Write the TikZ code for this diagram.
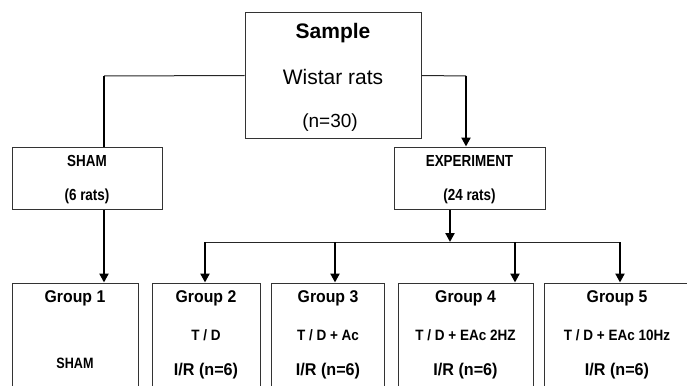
\documentclass[tikz,border=0pt]{standalone}
\usepackage{graphicx}
\usepackage{fontspec}
\setmainfont{Liberation Sans}
\usetikzlibrary{arrows.meta}
\def\dthin{\draw[line width=1pt,black!85]}
\def\dthick{\draw[line width=2.8pt,-{Triangle[length=9pt,width=9pt]}]}
\def\fsz#1{\fontsize{#1}{#1}\selectfont}
\def\nar#1#2{\scalebox{#1}[1]{#2}}

\begin{document}
\begin{tikzpicture}[x=1pt,y=-1pt,
    box/.style={draw=black!80,line width=1pt,inner sep=0pt},
    txt/.style={inner sep=0pt,anchor=center}]
    \useasboundingbox (0,0) rectangle (687,385);
    \clip (0,0) rectangle (687,385);
    % boxes
    \node[box,minimum width=176pt,minimum height=125pt] (sample) at (333,75.5) {};
    \node[box,minimum width=150pt,minimum height=62pt] (sham) at (87,178) {};
    \node[box,minimum width=151pt,minimum height=62pt] (exp) at (469.5,178) {};
    \node[box,minimum width=126pt,minimum height=117pt] (g1) at (75,341.5) {};
    \node[box,minimum width=108pt,minimum height=117pt] (g2) at (206,341.5) {};
    \node[box,minimum width=113pt,minimum height=117pt] (g3) at (327.5,341.5) {};
    \node[box,minimum width=135pt,minimum height=117pt] (g4) at (465.5,341.5) {};
    \node[box,minimum width=146pt,minimum height=117pt] (g5) at (617,341.5) {};
    % texts
    \node[txt] (sample-t) at (333,33) {\fsz{21}\bfseries Sample};
    \node[txt] (sample-w) at (333,77) {\fsz{21}Wistar rats};
    \node[txt] (sample-n) at (330,123) {\fsz{19}(n=30)};
    \node[txt] (sham-t) at (87,161) {\nar{0.84}{\fsz{16}\bfseries SHAM}};
    \node[txt] (sham-n) at (87,196) {\nar{0.84}{\fsz{16}\bfseries (6 rats)}};
    \node[txt] (exp-t) at (469.5,161) {\nar{0.84}{\fsz{16}\bfseries EXPERIMENT}};
    \node[txt] (exp-n) at (469.5,196) {\nar{0.84}{\fsz{16}\bfseries (24 rats)}};
    \node[txt] (g1-t) at (75,298) {\nar{0.93}{\fsz{17}\bfseries Group 1}};
    \node[txt] (g1-s) at (75,363) {\nar{0.84}{\fsz{15}\bfseries SHAM}};
    \node[txt] (g2-t) at (206,298) {\nar{0.93}{\fsz{17}\bfseries Group 2}};
    \node[txt] (g2-s) at (206,335) {\nar{0.9}{\fsz{15}\bfseries T / D}};
    \node[txt] (g2-n) at (206,371) {\nar{0.95}{\fsz{17}\bfseries I/R (n=6)}};
    \node[txt] (g3-t) at (328,298) {\nar{0.93}{\fsz{17}\bfseries Group 3}};
    \node[txt] (g3-s) at (328,335) {\nar{0.9}{\fsz{15}\bfseries T / D + Ac}};
    \node[txt] (g3-n) at (328,371) {\nar{0.95}{\fsz{17}\bfseries I/R (n=6)}};
    \node[txt] (g4-t) at (465.5,298) {\nar{0.93}{\fsz{17}\bfseries Group 4}};
    \node[txt] (g4-s) at (465.5,335) {\nar{0.9}{\fsz{15}\bfseries T / D + EAc 2HZ}};
    \node[txt] (g4-n) at (465.5,371) {\nar{0.95}{\fsz{17}\bfseries I/R (n=6)}};
    \node[txt] (g5-t) at (617,298) {\nar{0.93}{\fsz{17}\bfseries Group 5}};
    \node[txt] (g5-s) at (617,335) {\nar{0.9}{\fsz{15}\bfseries T / D + EAc 10Hz}};
    \node[txt] (g5-n) at (617,371) {\nar{0.95}{\fsz{17}\bfseries I/R (n=6)}};
    % connectors
    \coordinate (lc) at (104,76);
    \coordinate (rc) at (466,76);
    \coordinate (bar) at (450,242);
    \coordinate (a2) at (205,242);
    \coordinate (a3) at (335,242);
    \coordinate (a4) at (515,242);
    \coordinate (a5) at (620,242);
    \dthin (sample.west) -- (lc);
    \dthin (sample.east) -- (rc);
    \draw[line width=2.8pt] (lc) -- (lc |- sham.north);
    \dthick (rc) -- (rc |- exp.north);
    \dthick (lc |- sham.south) -- (lc |- g1.north);
    \dthick (bar |- exp.south) -- (bar);
    \dthin (a2) -- (a5);
    \dthick (a2) -- (a2 |- g2.north);
    \dthick (a3) -- (a3 |- g3.north);
    \dthick (a4) -- (a4 |- g4.north);
    \dthick (a5) -- (a5 |- g5.north);
\end{tikzpicture}
\end{document}
